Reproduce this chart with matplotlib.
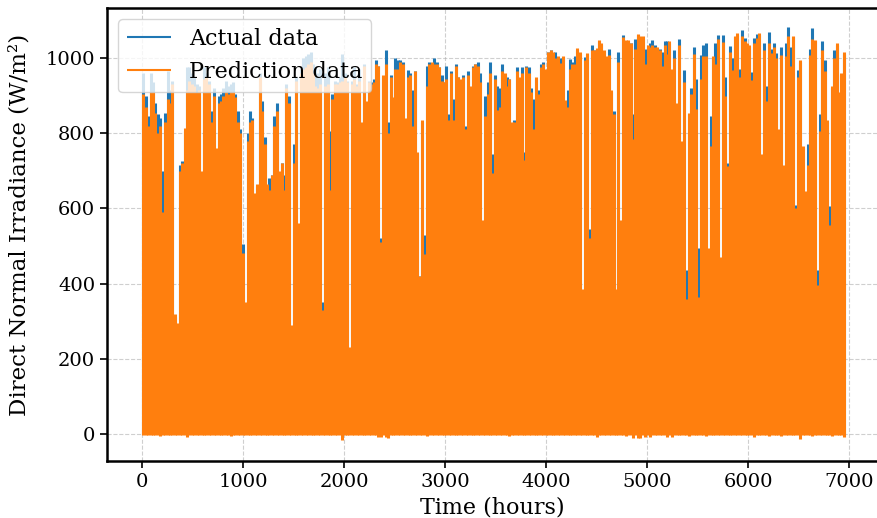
import numpy as np
import matplotlib
matplotlib.use("Agg")
import matplotlib.pyplot as plt

# Daily peak irradiance (W/m^2), one value per day
actual_peak = [
    960, 900, 845, 960, 935, 880, 850, 840, 700, 855, 965, 915, 940, 310, 290, 715, 725, 805, 975, 975, 960, 950, 930, 925, 690, 975, 960, 940, 860,
    920, 750, 900, 905, 920, 940, 925, 930, 935, 905, 860, 810, 505, 345, 800, 860, 840, 630, 660, 960, 885, 790, 660, 680, 690, 845, 880, 695, 720,
    690, 930, 900, 285, 770, 950, 555, 970, 1000, 1005, 1010, 1015, 985, 975, 960, 970, 350, 960, 975, 805, 905, 940, 935, 950, 1010, 960, 940, 225, 940,
    975, 930, 970, 825, 985, 880, 940, 935, 945, 995, 980, 520, 950, 1020, 830, 955, 890, 1000, 995, 995, 990, 835, 968, 960, 915, 965, 745, 420, 830,
    530, 980, 990, 985, 1000, 990, 975, 955, 935, 980, 850, 965, 890, 985, 950, 940, 955, 820, 965, 920, 980, 985, 990, 960, 565, 900, 935, 990, 745,
    955, 925, 920, 985, 955, 950, 945, 825, 835, 975, 945, 975, 750, 980, 975, 920, 890, 945, 915, 985, 990, 965, 1015, 1020, 1010, 1015, 1000, 1000, 1000,
    885, 915, 998, 990, 1005, 1020, 1010, 380, 1003, 1010, 545, 1035, 1020, 1025, 1045, 1035, 1015, 1000, 1025, 910, 860, 380, 1015, 565, 1060, 1045, 1045, 1040, 850,
    1050, 1060, 1055, 1050, 1025, 1030, 1040, 1048, 1035, 1025, 1025, 1015, 1045, 1045, 1040, 965, 1020, 875, 1050, 775, 968, 435, 850, 920, 1030, 945, 495, 1008, 1035,
    1040, 490, 845, 1000, 1040, 1062, 465, 1062, 950, 720, 1032, 1000, 1055, 1060, 970, 1075, 1052, 1035, 1030, 962, 1052, 1063, 1060, 740, 1040, 925, 1070, 1025, 1040,
    1012, 805, 1030, 710, 1040, 1082, 1030, 1055, 610, 968, 990, 760, 640, 770, 1025, 1080, 1045, 435, 850, 1045, 995, 830, 605, 920, 1022, 1035, 905, 955, 1010,
]
prediction_peak = [
    905, 870, 820, 910, 910, 855, 800, 820, 590, 830, 890, 880, 930, 320, 295, 700, 720, 815, 915, 940, 930, 925, 910, 915, 700, 945, 950, 930, 830,
    900, 760, 880, 885, 900, 910, 905, 910, 910, 895, 830, 800, 482, 350, 780, 830, 835, 640, 665, 950, 860, 770, 665, 650, 690, 820, 860, 700, 720,
    650, 920, 880, 290, 720, 940, 560, 960, 970, 975, 985, 990, 960, 925, 920, 930, 330, 925, 930, 650, 890, 930, 930, 935, 940, 950, 935, 232, 930,
    945, 925, 940, 830, 978, 885, 935, 930, 935, 985, 978, 510, 955, 985, 800, 950, 895, 970, 970, 990, 985, 840, 950, 955, 820, 965, 750, 420, 835,
    478, 925, 985, 990, 985, 985, 975, 940, 935, 945, 835, 960, 835, 980, 950, 945, 950, 810, 955, 925, 975, 985, 980, 935, 570, 845, 905, 960, 695,
    945, 862, 870, 965, 960, 925, 945, 830, 830, 965, 950, 960, 730, 975, 960, 910, 810, 950, 905, 975, 985, 970, 1015, 1020, 1015, 1000, 1005, 988, 1005,
    888, 870, 970, 985, 985, 1027, 1015, 385, 995, 1012, 520, 1020, 1020, 1027, 1048, 1040, 1020, 1005, 1008, 915, 850, 385, 990, 570, 1055, 1048, 1048, 1040, 785,
    1025, 1065, 1058, 1058, 985, 1035, 1030, 1035, 1030, 1030, 1020, 980, 1035, 1010, 1045, 970, 1000, 880, 1035, 780, 935, 360, 855, 905, 1010, 865, 365, 945, 1005,
    1005, 495, 765, 1005, 985, 1050, 470, 1042, 900, 712, 1015, 968, 1058, 1066, 950, 1058, 1045, 1040, 1035, 942, 1040, 1052, 1066, 745, 1020, 885, 1040, 1012, 1030,
    1000, 810, 1008, 715, 1005, 1058, 980, 1058, 600, 950, 995, 765, 645, 715, 1008, 1050, 1048, 395, 805, 1020, 965, 835, 555, 925, 1000, 1040, 910, 960, 1015,
]
# Daily minimum of the prediction series (small negative night-time values)
prediction_low = [
    -2, -2, -2, -2, -2, -2, -2, -6, -2, -2, -2, -2, -2, -2, -2, -2, -2, -2, -7, -2, -2, -2, -2, -2, -2, -2, -2, -2, -2,
    -2, -2, -2, -2, -2, -2, -2, -5, -2, -2, -2, -2, -2, -2, -2, -2, -2, -2, -2, -2, -2, -2, -2, -2, -2, -2, -2, -2, -2,
    -2, -2, -2, -2, -2, -2, -2, -2, -2, -2, -2, -2, -2, -2, -2, -2, -2, -2, -2, -2, -2, -2, -2, -2, -15, -2, -2, -2, -2,
    -2, -2, -2, -2, -2, -2, -2, -2, -2, -2, -8, -7, -2, -9, -10, -2, -2, -2, -2, -2, -2, -2, -2, -2, -2, -2, -2, -2, -2,
    -2, -5, -2, -2, -2, -2, -2, -2, -2, -2, -2, -2, -2, -2, -2, -2, -2, -2, -2, -2, -2, -2, -2, -2, -2, -2, -2, -2, -2,
    -2, -2, -2, -2, -2, -2, -6, -2, -2, -2, -2, -2, -2, -2, -2, -2, -2, -2, -2, -2, -2, -2, -2, -2, -2, -2, -2, -2, -2,
    -2, -2, -2, -2, -2, -2, -2, -2, -2, -2, -2, -2, -2, -9, -2, -2, -2, -2, -2, -2, -2, -2, -2, -2, -2, -6, -2, -2, -10,
    -2, -12, -10, -2, -9, -2, -7, -2, -2, -2, -2, -2, -2, -7, -2, -8, -2, -2, -2, -2, -2, -2, -5, -2, -2, -2, -2, -2, -2,
    -6, -2, -2, -2, -2, -2, -2, -2, -2, -2, -4, -2, -2, -2, -2, -2, -2, -2, -2, -2, -7, -2, -2, -2, -2, -2, -5, -2, -2,
    -2, -2, -6, -2, -2, -2, -2, -2, -2, -2, -14, -2, -2, -2, -2, -5, -2, -2, -2, -2, -2, -2, -2, -6, -2, -2, -2, -2, -8,
]
hours_per_day = 24

x_ticks = [0, 1000, 2000, 3000, 4000, 5000, 6000, 7000]
y_ticks = [0, 200, 400, 600, 800, 1000]

plt.rcParams['font.family'] = ['DejaVu Serif']

n_days = len(actual_peak)
day_hours = np.arange(n_days) * hours_per_day + hours_per_day / 2

fig = plt.figure(figsize=(8.78, 5.18), dpi=100)
ax_w = 776
ax = fig.add_axes([107 / 878, 57 / 518, ax_w / 878, 453 / 518])

ax.vlines(day_hours, 0, actual_peak, colors='#1f77b4', linewidth=2.2,
          capstyle='butt', label='Actual data', zorder=2)
ax.vlines(day_hours, prediction_low, prediction_peak, colors='#ff7f0e',
          linewidth=2.2, capstyle='butt', label='Prediction data', zorder=2.1)

span = n_days * hours_per_day
left = -0.05 * span
px_per_hour = 0.1010
ax.set_xlim(left, left + ax_w / px_per_hour)
ax.set_ylim(-72, 1133)
ax.set_xticks(x_ticks)
ax.set_yticks(y_ticks)
ax.tick_params(labelsize=14, width=1.2, length=5)
ax.set_xlabel('Time (hours)', fontsize=16)
ax.set_ylabel('Direct Normal Irradiance (W/m²)', fontsize=16.5)
ax.xaxis.set_label_coords(0.496, -0.078)
ax.yaxis.set_label_coords(-0.098, 0.521)
ax.grid(True, linestyle='--', color='#b0b0b0', alpha=0.6, linewidth=0.8, zorder=1)
ax.set_axisbelow(True)
for s in ax.spines.values():
    s.set_linewidth(1.8)
    s.set_color('black')

leg = ax.legend(loc='upper left', fontsize=16, framealpha=0.8,
                borderaxespad=0.5, handlelength=2.0)
for h in leg.legend_handles:
    h.set_linewidth(1.5)

fig.savefig('out.png', dpi=100)
